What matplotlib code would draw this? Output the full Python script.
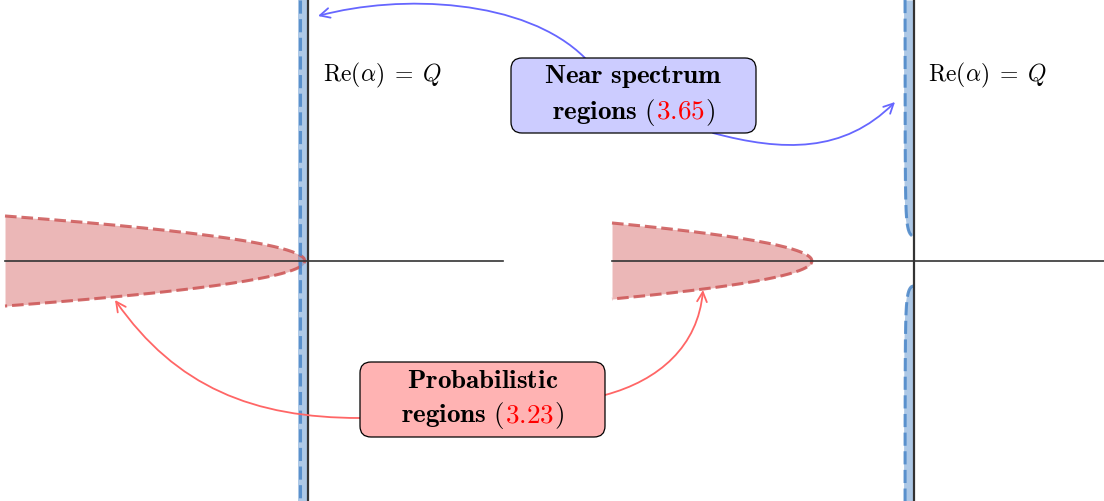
import numpy as np
import matplotlib
matplotlib.use("Agg")
import matplotlib.pyplot as plt
from matplotlib.patches import FancyBboxPatch, FancyArrowPatch
from matplotlib.path import Path
from matplotlib.offsetbox import TextArea, HPacker, VPacker, AnnotationBbox

plt.rcParams['mathtext.fontset'] = 'cm'

# ---------------- data ----------------
W, H = 1104, 501
axis_y = 261
panel_x0 = [5, 612]
panel_x1 = [503, 1104]
imag_axis_x = [308, 913.5]
prob_tip_x = [305, 812]
prob_coef = [2.6, 2.69]
band_width = [10.0, 10.0]
band_gap = [0, 25]
label_text = r"$\mathrm{Re}(\alpha)\;=\;Q$"
label_pos = [(323, 75), (928, 75)]

box_titles = [r"$\mathbf{Near\ spectrum}$", r"$\mathbf{Probabilistic}$"]
box_refs = ["3.65", "3.23"]
box_rect = [(511, 58, 245, 75), (360, 362, 245, 75)]
box_fc = ["#ccccff", "#ffb3b3"]

# arrows: start, end, out angle, in angle, looseness, colour
arrow_start = [(585, 58), (713, 133), (360, 418), (605, 395)]
arrow_end = [(318, 16), (895, 102), (115, 300), (703, 290)]
arrow_out = [135, -15, 180, 15]
arrow_in = [15, 225, -55, -95]
arrow_loose = [0.8, 1.0, 1.0, 1.0]
arrow_col = ["#6666ff", "#6666ff", "#ff6666", "#ff6666"]

# ---------------- figure ----------------
fig = plt.figure(figsize=(W / 100, H / 100), dpi=100)
ax = fig.add_axes([0, 0, 1, 1])
ax.set_xlim(0, W)
ax.set_ylim(H, 0)
ax.axis('off')

blue_fill = "#4a86c8"
red_fill = "#cc4444"

for i in range(2):
    # probabilistic region (parabola)
    xs = np.linspace(panel_x0[i], prob_tip_x[i], 300)
    off = prob_coef[i] * np.sqrt(prob_tip_x[i] - xs)
    ax.fill_between(xs, axis_y - off, axis_y + off, color=red_fill, alpha=0.38,
                    lw=0, zorder=2)
    bx = np.concatenate([xs, xs[::-1]])
    by = np.concatenate([axis_y - off, (axis_y + off)[::-1]])
    ax.plot(bx, by, color="#cc5555", alpha=0.85, lw=2.2, dashes=(3.8, 1.6),
            zorder=3)

    # near spectrum band
    xv = imag_axis_x[i]
    bw = band_width[i]
    g = band_gap[i]
    for sign in (-1, 1):
        if sign == -1:
            ys = np.linspace(0, axis_y - g, 400)
        else:
            ys = np.linspace(axis_y + g, H, 400)
        d = np.abs(ys - axis_y)
        if g > 0:
            w = bw * np.sqrt(np.clip(1 - (g / np.maximum(d, g)) ** 2, 0, 1))
        else:
            w = np.full_like(ys, bw)
        ax.fill_betweenx(ys, xv - w, xv, color=blue_fill, alpha=0.45, lw=0,
                         zorder=2)
        ax.plot(xv - w * 0.85, ys, color=blue_fill, alpha=0.85, lw=2.2,
                dashes=(4.3, 1.8), zorder=3)

    # axes lines
    ax.plot([panel_x0[i], panel_x1[i]], [axis_y, axis_y], color="#333333",
            lw=1.2, zorder=4)
    ax.plot([xv, xv], [0, H], color="#333333", lw=1.6, zorder=4)

    ax.text(label_pos[i][0], label_pos[i][1], label_text, fontsize=17,
            ha='left', va='center', zorder=5)


def tikz_curve(p0, p1, out_deg, in_deg, looseness=1.0):
    p0 = np.asarray(p0, float)
    p1 = np.asarray(p1, float)
    d = np.hypot(*(p1 - p0)) * 0.3915 * looseness
    a, b = np.radians(out_deg), np.radians(in_deg)
    c1 = p0 + d * np.array([np.cos(a), -np.sin(a)])
    c2 = p1 + d * np.array([np.cos(b), -np.sin(b)])
    return Path([p0, c1, c2, p1],
                [Path.MOVETO, Path.CURVE4, Path.CURVE4, Path.CURVE4])


for s, e, o, n, lo, c in zip(arrow_start, arrow_end, arrow_out, arrow_in,
                             arrow_loose, arrow_col):
    p = tikz_curve(s, e, o, n, lo)
    arr = FancyArrowPatch(path=p, arrowstyle="->,head_length=7,head_width=3.5",
                          mutation_scale=1, color=c, lw=1.3, zorder=6)
    ax.add_patch(arr)

# boxes
for i in range(2):
    x0, y0, bw_, bh_ = box_rect[i]
    ax.add_patch(FancyBboxPatch((x0, y0), bw_, bh_,
                                boxstyle="round,pad=0,rounding_size=11",
                                fc=box_fc[i], ec="black", lw=0.9, zorder=7))
    fs = 19.5
    t1 = TextArea(box_titles[i], textprops=dict(fontsize=fs))
    l2 = HPacker(children=[
        TextArea(r"$\mathbf{regions}\ ($", textprops=dict(fontsize=fs)),
        TextArea("$" + box_refs[i] + "$", textprops=dict(fontsize=fs, color="red")),
        TextArea(r"$)$", textprops=dict(fontsize=fs)),
    ], align="baseline", pad=0, sep=0)
    vp = VPacker(children=[t1, l2], align="center", pad=0, sep=5)
    ab = AnnotationBbox(vp, (x0 + bw_ / 2, y0 + bh_ / 2), frameon=False,
                        box_alignment=(0.5, 0.5), zorder=8)
    ax.add_artist(ab)

fig.savefig("out.png", dpi=100)
